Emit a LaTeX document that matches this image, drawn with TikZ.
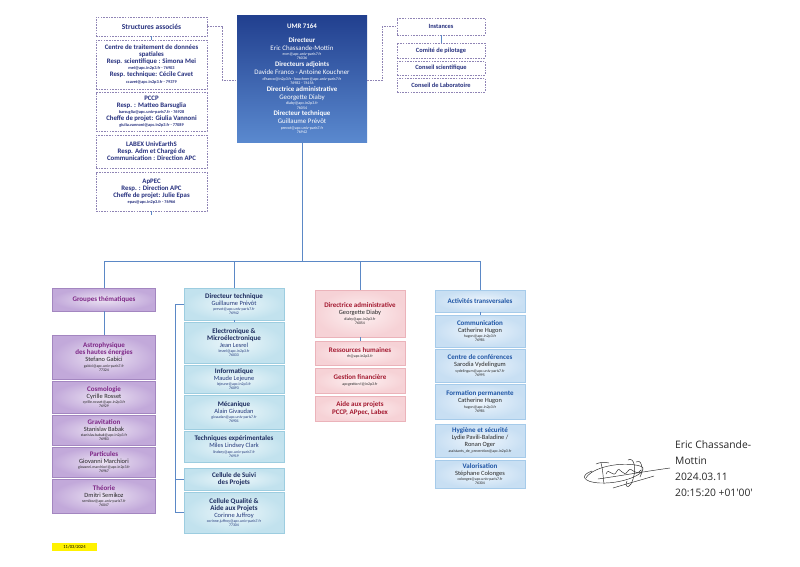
\documentclass[tikz,border=0pt]{standalone}
\usepackage{fontspec}
\setmainfont{Carlito}
\newfontfamily\sigfont{Open Sans}
\definecolor{dashc}{HTML}{8F84B5}
\definecolor{navyT}{HTML}{26307E}
\definecolor{lineB}{HTML}{5B88C6}
\definecolor{umrTop}{HTML}{213F8E}
\definecolor{umrBot}{HTML}{5A89CF}
\definecolor{purIn}{HTML}{ECE3F3}
\definecolor{purOut}{HTML}{C2A9DA}
\definecolor{purE}{HTML}{A386C0}
\definecolor{purT}{HTML}{7D2686}
\definecolor{cyIn}{HTML}{EDF7FA}
\definecolor{cyOut}{HTML}{C2E2EE}
\definecolor{cyE}{HTML}{9DCDE0}
\definecolor{cyT}{HTML}{1C2B5E}
\definecolor{cyN}{HTML}{22377A}
\definecolor{pkIn}{HTML}{FDF1F2}
\definecolor{pkOut}{HTML}{F6D2D6}
\definecolor{pkE}{HTML}{EBB3BA}
\definecolor{pkT}{HTML}{A3182F}
\definecolor{abIn}{HTML}{EEF5FC}
\definecolor{abOut}{HTML}{C8DFF3}
\definecolor{abE}{HTML}{A6CBEA}
\definecolor{abT}{HTML}{1E55A5}
\definecolor{dateY}{HTML}{FFF200}
\colorlet{ttl}{black}
\newcommand\oFix{\spaceskip=0pt\xspaceskip=0pt\leftskip=0pt plus 1fil\rightskip=0pt plus 1fil\parfillskip=0pt\relax}
% column texts
\newcommand\cT[2][7.2]{{\fontsize{7}{#1}\selectfont\oFix\bfseries\leavevmode\color{ttl}#2\par}}
\newcommand\cN[2][6.9]{{\fontsize{6.4}{#1}\selectfont\oFix #2\par}}
\newcommand\cM[2][5.6]{{\fontsize{3.9}{#1}\selectfont\oFix #2\par}}
\newcommand\cU[2][4.2]{{\fontsize{3.9}{#1}\selectfont\oFix #2\par}}
% instances texts
\newcommand\iT[2][6.6]{{\fontsize{6.4}{#1}\selectfont\oFix\bfseries #2\par}}
% structures texts
\newcommand\sH[2][7.5]{{\fontsize{7.5}{#1}\selectfont\oFix\bfseries #2\par}}
\newcommand\sT[2][7]{{\fontsize{6.8}{#1}\selectfont\oFix\bfseries #2\par}}
\newcommand\sM[2][6]{{\fontsize{4.3}{#1}\selectfont\oFix\bfseries #2\par}}
% umr texts
\newcommand\uT[2][6.8]{{\fontsize{6.9}{#1}\selectfont\oFix\bfseries #2\par}}
\newcommand\uN[2][8]{{\fontsize{6.9}{#1}\selectfont\oFix #2\par}}
\newcommand\uM[2][5.5]{{\fontsize{4}{#1}\selectfont\oFix #2\par}}
\tikzset{
  bx/.style={rectangle, inner sep=1pt, align=center},
  wS/.style={minimum width=111pt, text width=107pt},
  wU/.style={minimum width=130pt, text width=126pt},
  wI/.style={minimum width=88pt, text width=84pt},
  wG/.style={minimum width=103pt, text width=99pt},
  wT/.style={minimum width=100pt, text width=96pt},
  wD/.style={minimum width=90pt, text width=86pt},
  wA/.style={minimum width=90pt, text width=86pt},
  dbox/.style={bx, draw=dashc, dash pattern=on 1.6pt off 1.1pt, line width=0.55pt, fill=white, text=navyT},
  umrbox/.style={bx, top color=umrTop, bottom color=umrBot, text=white},
  pbox/.style={bx, wG, draw=purE, line width=0.8pt, inner color=purIn, outer color=purOut, text=black!85, execute at begin node={\colorlet{ttl}{purT}}},
  cbox/.style={bx, wT, draw=cyE, line width=0.8pt, inner color=cyIn, outer color=cyOut, text=cyN, execute at begin node={\colorlet{ttl}{cyT}}},
  rbox/.style={bx, wD, draw=pkE, line width=0.8pt, inner color=pkIn, outer color=pkOut, text=black!85, execute at begin node={\colorlet{ttl}{pkT}}},
  abox/.style={bx, wA, draw=abE, line width=0.8pt, inner color=abIn, outer color=abOut, text=black!85, execute at begin node={\colorlet{ttl}{abT}}},
  conn/.style={draw=lineB, line width=0.8pt},
  dconn/.style={draw=dashc, dash pattern=on 1.6pt off 1.1pt, line width=0.55pt},
  sigline/.style={draw=black!85, line width=0.45pt, line cap=round, line join=round},
}
\begin{document}
\begin{tikzpicture}[x=1pt, y=-1pt]
\useasboundingbox (0,0) rectangle (800,566);
\fill[white] (0,0) rectangle (800,566);

% ---------- Structures associees ----------
\node[dbox, wS, minimum height=19pt] (sa0) at (151.5,26.5) {\sH{Structures associés}};
\node[dbox, wS, minimum height=49pt] (sa1) at (151.5,64.5) {\sT{Centre de traitement de données}\sT{spatiales}\sT{Resp. scientifique : Simona Mei}\sM{mei@apc.in2p3.fr - 76903}\sT[6.3]{Resp. technique: Cécile Cavet}\sM[7]{ccavet@apc.in2p3.fr - 79379}};
\node[dbox, wS, minimum height=39pt] (sa2) at (151.5,111.5) {\sT{PCCP}\sT{Resp. : Matteo Barsuglia}\sM{barsuglia@apc.univ-paris7.fr - 76928}\sT[6.3]{Cheffe de projet: Giulia Vannoni}\sM{giulia.vannoni@apc.in2p3.fr - 77089}};
\node[dbox, wS, minimum height=33pt] (sa3) at (151.5,151.5) {\sT{LABEX UnivEarthS}\sT{Resp. Adm et Chargé de}\sT{Communication : Direction APC}};
\node[dbox, wS, minimum height=39pt] (sa4) at (151.5,191.5) {\sT{ApPEC}\sT{Resp. : Direction APC}\sT{Cheffe de projet: Julie Epas}\sM{epas@apc.in2p3.fr - 76966}};
\coordinate (sa4s) at (151.5,215);
\draw[conn] (sa0.south) -- (sa1.north);
\draw[conn] (sa4.south) -- (sa4s);

% ---------- UMR ----------
\node[umrbox, wU, minimum height=127pt] (umr) at (302,78.5) {%
\uT{UMR 7164}%
\uT[14]{Directeur}%
\uN{Eric Chassande-Mottin}%
\uM{ecm@apc.univ-paris7.fr}%
\uM[4.3]{76036}%
\uT{Directeurs adjoints}%
\uN{Davide Franco - Antoine Kouchner}%
\uM{dfranco@in2p3.fr - kouchner@apc.univ-paris7.fr}%
\uM[4.3]{76982 - 76156}%
\uT{Directrice administrative}%
\uN{Georgette Diaby}%
\uM{diaby@apc.in2p3.fr}%
\uM[4.3]{76054}%
\uT{Directeur technique}%
\uN{Guillaume Prévôt}%
\uM{prevot@apc.univ-paris7.fr}%
\uM[4.3]{76942}};

% ---------- Instances ----------
\node[dbox, wI, minimum height=17pt] (in0) at (441,26.5) {\iT{Instances}};
\node[dbox, wI, minimum height=15pt] (in1) at (441,50.5) {\iT{Comité de pilotage}};
\node[dbox, wI, minimum height=14pt] (in2) at (441,68) {\iT{Conseil scientifique}};
\node[dbox, wI, minimum height=14pt] (in3) at (441,85) {\iT{Conseil de Laboratoire}};
\draw[conn] (in0.south) -- (in1.north);

% dashed links
\draw[dconn] (sa0.east) -- ++(15,0) |- (umr.west |- 0,80);
\draw[dconn] (umr.east |- 0,80) -- ++(15,0) |- (in0.west);

% ---------- Groupes thematiques ----------
\node[pbox, minimum height=23pt] (g0) at (104,299.5) {\cT{Groupes thématiques}};
\node[pbox, minimum height=44pt] (g1) at (104,357) {\cT{Astrophysique}\cT{des hautes énergies}\cN{Stefano Gabici}\cM{gabici@apc.univ-paris7.fr}\cU{77324}};
\node[pbox, minimum height=32pt] (g2) at (104,397) {\cT{Cosmologie}\cN{Cyrille Rosset}\cM{cyrille.rosset@apc.in2p3.fr}\cU{76929}};
\node[pbox, minimum height=30pt] (g3) at (104,430) {\cT{Gravitation}\cN{Stanislav Babak}\cM{stanislav.babak@apc.in2p3.fr}\cU{76983}};
\node[pbox, minimum height=30pt] (g4) at (104,462) {\cT{Particules}\cN{Giovanni Marchiori}\cM{giovanni.marchiori@apc.in2p3.fr}\cU{76967}};
\node[pbox, minimum height=34pt] (g5) at (104,496) {\cT{Théorie}\cN{Dmitri Semikoz}\cM{semikoz@apc.univ-paris7.fr}\cU{76047}};
\draw[conn] (g0.south) -- (g1.north);

% ---------- Directeur technique ----------
\node[cbox, minimum height=32pt] (t0) at (234,304) {\cT{Directeur technique}\cN{Guillaume Prévôt}\cM{prevot@apc.univ-paris7.fr}\cU{76942}};
\node[cbox, minimum height=41pt] (t1) at (234,342.5) {\cT{Electronique \&}\cT{Microélectronique}\cN{Jean Lesrel}\cM{lesrel@apc.in2p3.fr}\cU{76033}};
\node[cbox, minimum height=28pt] (t2) at (234,379) {\cT{Informatique}\cN{Maude Lejeune}\cM{lejeune@apc.in2p3.fr}\cU{76093}};
\node[cbox, minimum height=34pt] (t3) at (234,412) {\cT{Mécanique}\cN{Alain Givaudan}\cM{givaudan@apc.univ-paris7.fr}\cU{76901}};
\node[cbox, minimum height=31pt] (t4) at (234,446.5) {\cT{Techniques expérimentales}\cN{Miles Lindsey Clark}\cM{lindsey@apc.univ-paris7.fr}\cU{76919}};
\node[cbox, minimum height=22pt] (t5) at (234,479) {\cT{Cellule de Suivi}\cT{des Projets}};
\node[cbox, minimum height=41pt] (t6) at (234,512.5) {\cT{Cellule Qualité \&}\cT{Aide aux Projets}\cN{Corinne Juffroy}\cM{corinne.juffroy@apc.univ-paris7.fr}\cU{77304}};
\draw[conn] (t0.south) -- (t1.north);
\draw[conn] (t0.west) -- ++(-8,0) |- (t5.west);
\draw[conn] (t0.west) -- ++(-8,0) |- (t6.west);

% ---------- Directrice administrative ----------
\node[rbox, minimum height=47pt] (d0) at (360,313.5) {\cT{Directrice administrative}\cN{Georgette Diaby}\cM{diaby@apc.in2p3.fr}\cU{76054}};
\node[rbox, minimum height=24pt] (d1) at (360,353) {\cT{Ressources humaines}\cM{rh@apc.in2p3.fr}};
\node[rbox, minimum height=25pt] (d2) at (360,380.5) {\cT{Gestion financière}\cM{apcgestion-l@in2p3.fr}};
\node[rbox, minimum height=25pt] (d3) at (360,408.5) {\cT{Aide aux projets}\cT{PCCP, APpec, Labex}};
\draw[conn] (d0.south) -- (d1.north);

% ---------- Activites transversales ----------
\node[abox, minimum height=22pt] (a0) at (480,301) {\cT{Activités transversales}};
\node[abox, minimum height=32pt] (a1) at (480,331) {\cT{Communication}\cN{Catherine Hugon}\cM{hugon@apc.in2p3.fr}\cU{76981}};
\node[abox, minimum height=33pt] (a2) at (480,365.5) {\cT{Centre de conférences}\cN{Sarodia Vydelingum}\cM{vydelingum@apc.univ-paris7.fr}\cU{76995}};
\node[abox, minimum height=35pt] (a3) at (480,401.5) {\cT{Formation permanente}\cN{Catherine Hugon}\cM{hugon@apc.in2p3.fr}\cU{76981}};
\node[abox, minimum height=33pt] (a4) at (480,440.5) {\cT{Hygiène et sécurité}\cN{Lydie Pavili-Baladine /}\cN{Ronan Oger}\cM{assistants\_de\_prevention@apc.in2p3.fr}};
\node[abox, minimum height=28pt] (a5) at (480,474) {\cT{Valorisation}\cN{Stéphane Colonges}\cM{colonges@apc.univ-paris7.fr}\cU{76304}};
\draw[conn] (a0.south) -- (a1.north);

% ---------- main tree ----------
\draw[conn] (umr.south) -- ++(0,119) -| (g0.north);
\draw[conn] (umr.south) -- ++(0,119) -| (t0.north);
\draw[conn] (umr.south) -- ++(0,119) -| (d0.north);
\draw[conn] (umr.south) -- ++(0,119) -| (a0.north);

% ---------- date ----------
\node[fill=dateY, minimum width=45pt, minimum height=8pt, inner sep=0pt, font=\fontsize{4.6}{5}\selectfont] (date) at (74.5,547) {11/03/2024};

% ---------- signature ----------
\draw[sigline] (586,478) .. controls (592,467) and (622,461) .. (640,466) .. controls (652,470) and (628,484) .. (600,483) .. controls (582,482) and (580,475) .. (592,471);
\draw[sigline] (598,479) .. controls (625,475) and (648,471) .. (670,468);
\draw[sigline] (601,463) .. controls (603,470) and (603,477) .. (604,484);
\draw[sigline] (596,464) .. controls (600,462) and (605,462) .. (609,463);
\draw[sigline] (606,474) .. controls (609,466) and (613,480) .. (617,471) .. controls (620,465) and (623,479) .. (628,471) .. controls (632,465) and (635,478) .. (641,470);
\draw[sigline] (628,460) .. controls (634,456) and (638,470) .. (631,484) .. controls (628,489) and (624,486) .. (627,481);
\draw[sigline] (613,488) .. controls (626,484) and (641,480) .. (654,476);
\draw[sigline] (636,462) .. controls (640,458) and (645,468) .. (640,477);
\node[anchor=north west, inner sep=0pt, align=left, text=black!85, font=\sigfont\fontsize{10.3}{16.2}\selectfont] (sig) at (675,440) {Eric Chassande-\\Mottin\\2024.03.11\\20:15:20 +01\textquotesingle 00\textquotesingle};
\end{tikzpicture}
\end{document}
